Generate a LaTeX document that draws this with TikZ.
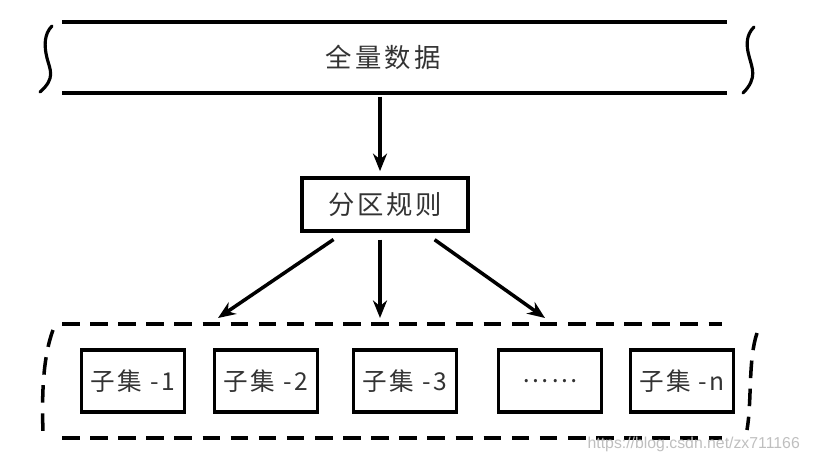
\documentclass[tikz,border=0pt]{standalone}
\usepackage{fontspec}
\setmainfont{Noto Sans CJK SC}
\newfontfamily\wmfont{Liberation Sans}
\usepackage{xcolor}
\usetikzlibrary{arrows.meta,positioning}

\begin{document}
\begin{tikzpicture}[
  x=0.02cm, y=-0.02cm,
  band/.style={line width=2pt},
  brace/.style={line width=1.8pt, line cap=round},
  label/.style={font=\fontsize{15}{18}\selectfont\addfontfeature{LetterSpace=12}, text=black!80},
  rulebox/.style={draw, line width=1.8pt, minimum width=3.32cm, minimum height=1.06cm, font=\fontsize{15}{18}\selectfont\addfontfeature{LetterSpace=10}, text=black!80},
  subset/.style={draw, line width=1.8pt, minimum width=2.06cm, minimum height=1.24cm, font=\fontsize{14}{17}\selectfont\addfontfeature{LetterSpace=10}, text=black!80},
  dashline/.style={line width=2pt, dash pattern=on 10pt off 6pt},
  flow/.style={->, line width=2pt},
  >={Stealth[length=10pt,width=8pt]}
]
  \useasboundingbox (0,0) rectangle (814,463);

  % Full data band
  \node[label] (full) at (383,57) {全量数据};
  \draw[band] (62,22) -- (727,22);
  \draw[band] (62,93) -- (727,93);
  \draw[brace] (52,26) .. controls (44,34) and (44,46) .. (47,58)
                       .. controls (50,70) and (56,78) .. (40,92);
  \draw[brace] (754,27) .. controls (746,35) and (746,45) .. (749,56)
                        .. controls (752,68) and (758,78) .. (743,93);
  \coordinate (bandbot) at (380,93);

  % Partition rule
  \node[rulebox] (rule) at (385,204.5) {分区规则};

  % Subsets
  \node[subset] (s1) at (133,381) {子集 -1};
  \node[subset] (s2) at (266,381) {子集 -2};
  \node[subset] (s3) at (405,381) {子集 -3};
  \node[subset] (s4) at (550,381) {……};
  \node[subset] (s5) at (682,381) {子集 -n};

  % Dashed frame round the subsets
  \draw[dashline] (62,324) -- (722,324);
  \draw[dashline] (62,438) -- (722,438);
  \draw[dashline] (53,330) .. controls (42,360) and (42,400) .. (43,433);
  \draw[dashline] (757,333) .. controls (748,360) and (752,400) .. (747,430);

  \coordinate (e1) at (218,318);
  \coordinate (e2) at (380,318);
  \coordinate (e3) at (545,318);

  % Arrows
  \draw[flow, shorten <=2pt, shorten >=3pt] (bandbot) -- (rule.north -| bandbot);
  \draw[flow, shorten <=7pt] (rule) -- (e1);
  \draw[flow, shorten <=4pt] (rule.south -| e2) -- (e2);
  \draw[flow, shorten <=7pt] (rule) -- (e3);

  % Watermark
  \node[font=\wmfont\fontsize{9}{10}\selectfont, text=black!25, anchor=east] (wm) at (806,444) {https://blog.csdn.net/zx711166};
\end{tikzpicture}
\end{document}
